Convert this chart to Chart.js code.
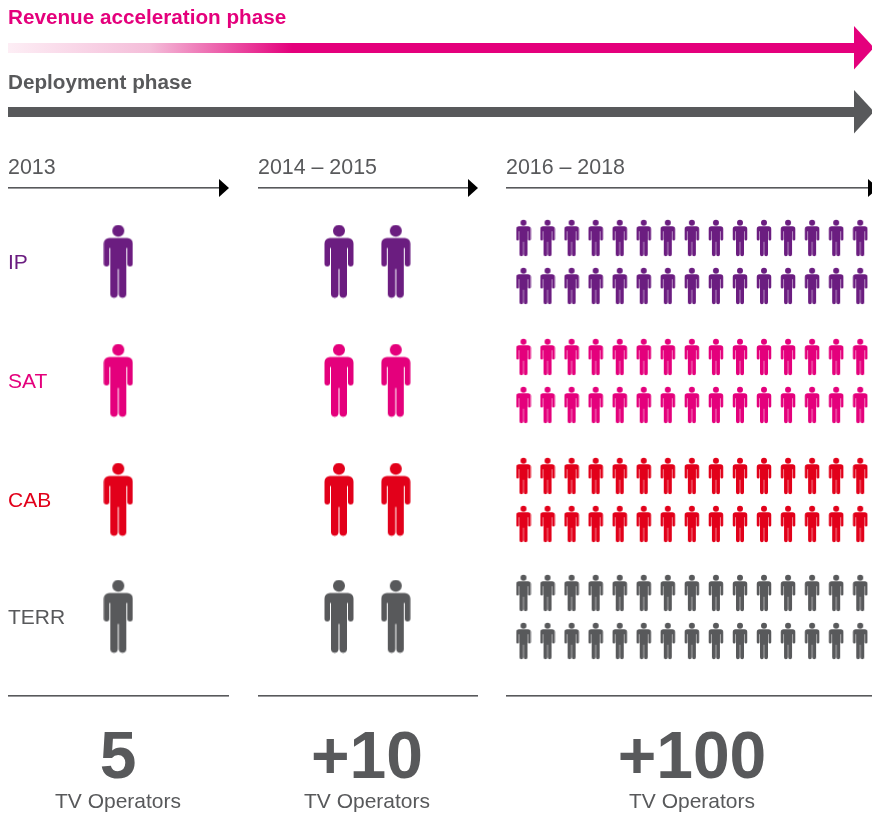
<!DOCTYPE html>
<html>
<head>
<meta charset="utf-8">
<title>TV Operators</title>
<script src="https://cdn.jsdelivr.net/npm/chart.js@4/dist/chart.umd.min.js"></script>
<style>
    html, body { margin: 0; padding: 0; background: #fff; overflow: hidden; }
    canvas { display: block; }
</style>
</head>
<body>
<canvas id="operators" width="872" height="818"></canvas>
<script>
// Datos del gráfico
const technologies = ["IP", "SAT", "CAB", "TERR"];
const periods = ["2013", "2014 – 2015", "2016 – 2018"];
const iconsPerTechnology = [1, 2, 30];
const operatorTotals = ["5", "+10", "+100"];
const totalCaption = "TV Operators";
const phases = ["Revenue acceleration phase", "Deployment phase"];

// Colores y tipografía
const MAGENTA = "#e4007c";
const GREY = "#58595b";
const techColors = ["#6b1d80", MAGENTA, "#e2001a", GREY];
const FONT = '"Liberation Sans", Arial, sans-serif';

// Distribución de cada columna, en píxeles de la escala
const rowCentres = [261.5, 380.5, 499.5, 616.5];
const columns = [
    { left: 8, right: 229, centre: 118, firstX: 118.3, stepX: 0, perRow: 1, rows: [0], size: 1 },
    { left: 258, right: 478, centre: 367, firstX: 339, stepX: 56.8, perRow: 2, rows: [0], size: 1 },
    { left: 506, right: 878, centre: 692, firstX: 523.5, stepX: 24.05, perRow: 15, rows: [-23.5, 24.5], size: 0.5 }
];

// Figura de persona, dibujada sobre un canvas pequeño para usarla como pointStyle
function personIcon(color, size) {
    const icon = document.createElement("canvas");
    icon.width = Math.ceil(15 * size) * 2;
    icon.height = Math.ceil(36.5 * size) * 2;
    const c = icon.getContext("2d");
    c.translate((icon.width - 30 * size) / 2, (icon.height - 73 * size) / 2);
    c.scale(size, size);
    c.fillStyle = color;
    c.beginPath();
    c.arc(15, 5.8, 6, 0, Math.PI * 2);
    c.fill();
    c.beginPath();
    c.roundRect(0.5, 13, 29, 10, [5.5, 5.5, 0, 0]);
    c.roundRect(0.5, 20, 5.5, 21.5, [0, 0, 2.7, 2.7]);
    c.roundRect(24, 20, 5.5, 21.5, [0, 0, 2.7, 2.7]);
    c.rect(7, 20, 16, 24);
    c.roundRect(7, 40, 7.5, 32.8, [0, 0, 3.7, 3.7]);
    c.roundRect(15.5, 40, 7.5, 32.8, [0, 0, 3.7, 3.7]);
    c.fill();
    return icon;
}

// Un dataset por tecnología y columna
const datasets = [];
technologies.forEach((tech, t) => {
    columns.forEach((col, p) => {
        const puntos = [];
        for (let i = 0; i < iconsPerTechnology[p]; i++) {
            const fila = Math.floor(i / col.perRow);
            puntos.push({
                x: col.firstX + (i % col.perRow) * col.stepX,
                y: rowCentres[t] + col.rows[fila]
            });
        }
        datasets.push({
            label: tech + " " + periods[p],
            data: puntos,
            pointStyle: personIcon(techColors[t], col.size),
            pointRadius: 10,
            showLine: false,
            clip: false
        });
    });
});

// Flechas, reglas y textos alrededor de las figuras
const decoration = {
    id: "decoration",
    afterDraw(chart) {
        const { ctx, scales } = chart;
        const X = (v) => scales.x.getPixelForValue(v);
        const Y = (v) => scales.y.getPixelForValue(v);

        function texto(str, x, y, font, color, align) {
            ctx.font = font;
            ctx.fillStyle = color;
            ctx.textAlign = align || "left";
            ctx.textBaseline = "alphabetic";
            ctx.fillText(str, X(x), Y(y));
        }
        function triangulo(x0, x1, y, half, color) {
            ctx.fillStyle = color;
            ctx.beginPath();
            ctx.moveTo(X(x0), Y(y - half));
            ctx.lineTo(X(x1), Y(y));
            ctx.lineTo(X(x0), Y(y + half));
            ctx.closePath();
            ctx.fill();
        }
        function regla(x0, x1, y) {
            ctx.fillStyle = GREY;
            ctx.fillRect(X(x0), Y(y), X(x1) - X(x0), 1.6);
        }

        ctx.save();

        // Flechas de fase
        const degradado = ctx.createLinearGradient(X(8), 0, X(292), 0);
        degradado.addColorStop(0, "#fdeef5");
        degradado.addColorStop(0.5, "#f4bdd9");
        degradado.addColorStop(1, MAGENTA);
        ctx.fillStyle = degradado;
        ctx.fillRect(X(8), Y(43), X(856) - X(8), 10);
        triangulo(854, 874, 47.7, 21.7, MAGENTA);
        ctx.fillStyle = GREY;
        ctx.fillRect(X(8), Y(107), X(856) - X(8), 10);
        triangulo(854, 874, 111.7, 21.7, GREY);

        texto(phases[0], 8, 24, "bold 20.7px " + FONT, MAGENTA);
        texto(phases[1], 8, 89, "bold 20.7px " + FONT, GREY);

        // Cabeceras y pies de cada columna
        columns.forEach((col, p) => {
            texto(periods[p], col.left, 174, "21.4px " + FONT, GREY);
            regla(col.left, col.right - 8, 187);
            triangulo(col.right - 10, col.right, 188, 9, "#000");
            regla(col.left, Math.min(col.right, 872), 695);
            texto(operatorTotals[p], col.centre, 778, "bold 66px " + FONT, GREY, "center");
            texto(totalCaption, col.centre, 808, "21px " + FONT, GREY, "center");
        });

        // Nombres de las tecnologías
        technologies.forEach((tech, t) => {
            texto(tech, 8, rowCentres[t] + 7.5, "21px " + FONT, techColors[t]);
        });

        ctx.restore();
    }
};

new Chart(document.getElementById("operators").getContext("2d"), {
    type: "scatter",
    data: { datasets: datasets },
    plugins: [decoration],
    options: {
        responsive: false,
        animation: false,
        events: [],
        layout: { padding: 0, autoPadding: false },
        plugins: {
            legend: { display: false },
            title: { display: false },
            tooltip: { enabled: false }
        },
        scales: {
            x: { type: "linear", display: false, min: 0, max: 872 },
            y: { type: "linear", display: false, min: 0, max: 818, reverse: true }
        }
    }
});
</script>
</body>
</html>
